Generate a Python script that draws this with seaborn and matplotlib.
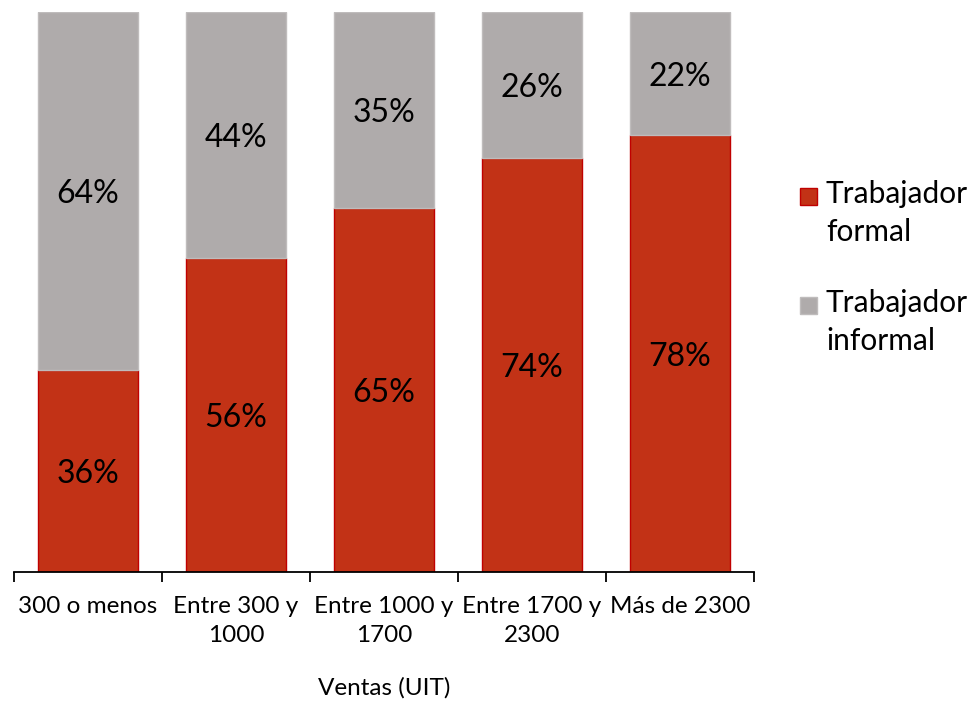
import matplotlib
matplotlib.use("Agg")
import matplotlib.pyplot as plt
from matplotlib.patches import Rectangle
from matplotlib.ticker import FixedLocator, NullFormatter
import seaborn as sns

categorias = ["300 o menos", "Entre 300 y\n1000", "Entre 1000 y\n1700",
              "Entre 1700 y\n2300", "Más de 2300"]
formal = [36, 56, 65, 74, 78]
informal = [64, 44, 35, 26, 22]
series = ["Trabajador\nformal", "Trabajador\ninformal"]

ROJO = "#C23216"
ROJO_BORDE = "#C00000"
GRIS = "#AFABAB"
GRIS_BORDE = "#BFBCBC"

sns.set_theme(style="white")
plt.rcParams["font.family"] = ["Lato", "DejaVu Sans"]

W, H = 969, 701
fig = plt.figure(figsize=(W / 100, H / 100), dpi=100)
ax = fig.add_axes([14 / W, 1 - 572 / H, 740 / W, 560 / H])

sns.barplot(x=categorias, y=formal, color=ROJO, saturation=1, width=0.67,
            edgecolor=ROJO_BORDE, linewidth=1, ax=ax)
sns.barplot(x=categorias, y=informal, bottom=formal, color=GRIS, saturation=1,
            width=0.67, edgecolor=GRIS_BORDE, linewidth=1, ax=ax)

ax.set_xlim(-0.5, len(categorias) - 0.5)
ax.set_ylim(0, 100)

for i, (f, inf) in enumerate(zip(formal, informal)):
    ax.text(i, f / 2, f"{f}%", ha="center", va="center_baseline",
            fontsize=23, color="black")
    ax.text(i, f + inf / 2, f"{inf}%", ha="center", va="center_baseline",
            fontsize=23, color="black")

for s in ["left", "right", "top"]:
    ax.spines[s].set_visible(False)
ax.spines["bottom"].set_color("black")
ax.spines["bottom"].set_linewidth(1.3)
ax.set_yticks([])

# boundary ticks as major, labels on minor ticks at category centres
ax.xaxis.set_major_locator(FixedLocator([i - 0.5 for i in range(len(categorias) + 1)]))
ax.xaxis.set_major_formatter(NullFormatter())
ax.xaxis.set_minor_locator(FixedLocator(list(range(len(categorias)))))
ax.set_xticklabels(categorias, minor=True, linespacing=1.5)
ax.tick_params(axis="x", which="major", bottom=True, direction="out", length=7,
               width=1.3, color="black")
ax.tick_params(axis="x", which="minor", bottom=True, length=0, pad=17,
               labelsize=17.5, labelcolor="black")
ax.set_xlabel("Ventas (UIT)", fontsize=17.5, color="black", labelpad=22)
ax.set_ylabel("")

# legend: square aligned with the first line of each two-line label
leyenda = [(ROJO, ROJO_BORDE, 196), (GRIS, GRIS_BORDE, 305)]
for (fc, ec, y), texto in zip(leyenda, series):
    fig.patches.append(Rectangle((800 / W, 1 - (y + 9) / H), 17 / W, 17 / H,
                                 facecolor=fc, edgecolor=ec, linewidth=1,
                                 transform=fig.transFigure, figure=fig))
    fig.text(826 / W, 1 - (y - 16) / H, texto, ha="left", va="top",
             fontsize=21.5, color="black", linespacing=1.45)

fig.savefig("out.png", dpi=100)
